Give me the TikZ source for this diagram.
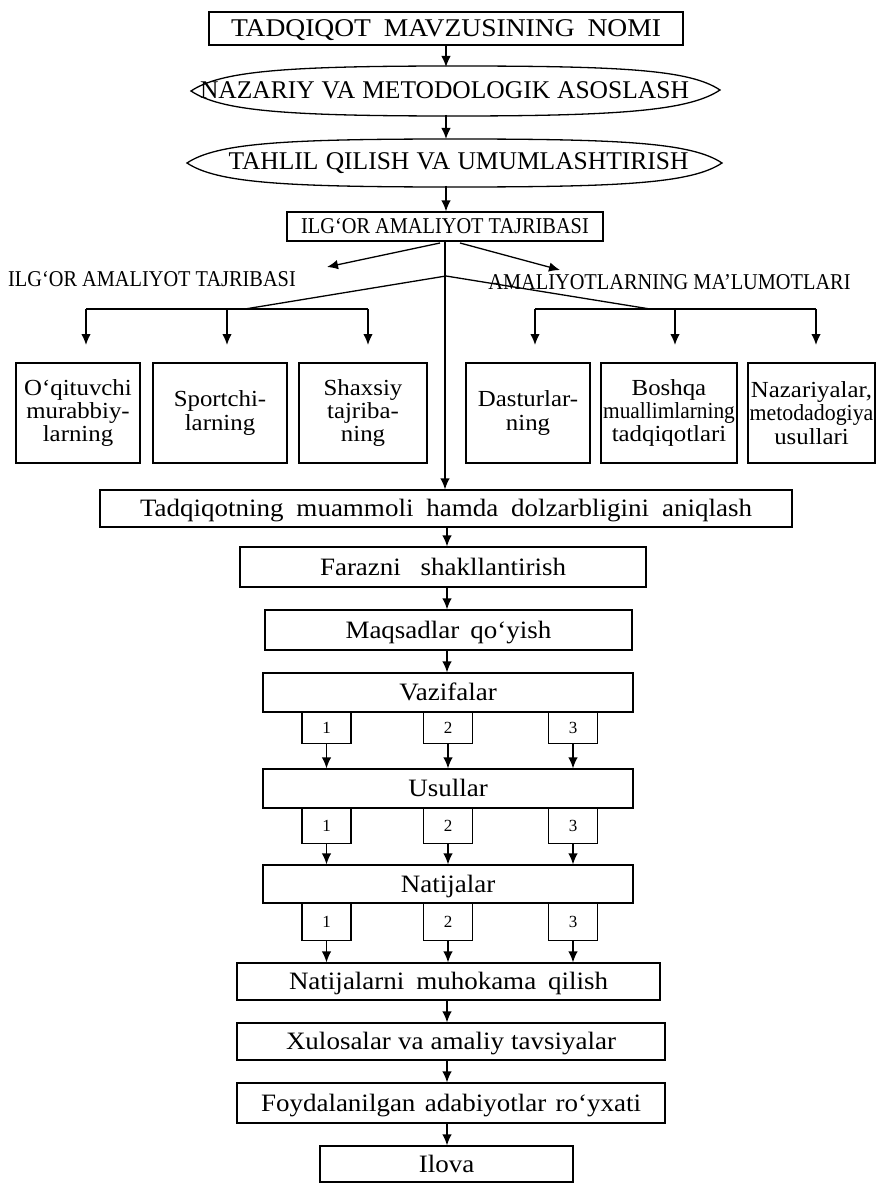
\documentclass[tikz,border=0pt]{standalone}
\usepackage{fontspec}
\usepackage{graphicx}
\setmainfont{Liberation Serif}
\newfontfamily\condfont[FakeStretch=0.9]{Liberation Serif}
\newfontfamily\widefont[FakeStretch=1.08]{Liberation Serif}
\usetikzlibrary{arrows.meta}
\newcommand\fTitle{\fontsize{25.5}{30}\selectfont}
\newcommand\fCond{\condfont\fontsize{22.6}{27}\selectfont}
\newcommand\fMain{\widefont\fontsize{25}{30}\selectfont}
\newcommand\fSmall{\widefont\fontsize{23}{23.3}\selectfont}
\newcommand\fNum{\fontsize{17}{18}\selectfont}
\begin{document}
\begin{tikzpicture}[x=1pt,y=-1pt,
  ln/.style={line width=1.3pt},
  arr/.style={ln,-{Latex[length=11pt,width=9.5pt]}},
  bx/.style={draw,ln,inner sep=0pt},
  caps/.style={font=\fTitle,text height=16.7pt,text depth=0pt,inner sep=0pt},
  cond/.style={font=\fCond,text height=14.8pt,text depth=0pt,inner sep=0pt},
  mb/.style={bx,font=\fMain,text height=16.4pt,text depth=0pt},
  nb/.style={bx,font=\fNum,minimum width=49pt,text height=11.4pt,text depth=0pt},
  sb/.style={bx,font=\fSmall,align=center,minimum height=100pt}]
\useasboundingbox (0,0) rectangle (877,1185);

% --- top part
\node[bx,caps,minimum width=474pt,minimum height=33pt] (title) at (446,28.5)
  {\widefont\makebox[430pt][s]{TADQIQOT MAVZUSINING NOMI}};

\coordinate (e1W) at (191,91);  \coordinate (e1E) at (720,90);
\coordinate (e1N) at (455,66);  \coordinate (e1S) at (455,116);
\draw[ln] (e1W) .. controls +(30,-20) and +(-170,0) .. (e1N)
  .. controls +(170,0) and +(-30,-20) .. (e1E)
  .. controls +(-30,20) and +(170,0) .. (e1S)
  .. controls +(-170,0) and +(30,20) .. cycle;
\node[caps] (e1) at (444.5,90) {\makebox[489pt][s]{NAZARIY VA METODOLOGIK ASOSLASH}};

\coordinate (e2W) at (187,163); \coordinate (e2E) at (722,163);
\coordinate (e2N) at (455,139); \coordinate (e2S) at (455,187);
\draw[ln] (e2W) .. controls +(30,-20) and +(-170,0) .. (e2N)
  .. controls +(170,0) and +(-30,-20) .. (e2E)
  .. controls +(-30,20) and +(170,0) .. (e2S)
  .. controls +(-170,0) and +(30,20) .. cycle;
\node[caps] (e2) at (458.5,161.5) {\makebox[460pt][s]{TAHLIL QILISH VA UMUMLASHTIRISH}};

\coordinate (e1t) at (446,67);  \coordinate (e1b) at (446,115);
\coordinate (e2t) at (446,139); \coordinate (e2b) at (446,186);
\draw[arr] (title.south) -- (e1t);
\draw[arr] (e1b) -- (e2t);

\node[bx,cond,minimum width=316pt,minimum height=29pt] (il) at (445,226.5)
  {ILG‘OR AMALIYOT TAJRIBASI};
\draw[arr] (e2b) -- (e2b |- il.north);

\node[cond] (lab1) at (152,279.5) {ILG‘OR AMALIYOT TAJRIBASI};
\node[cond] (lab2) at (669.5,282.5) {AMALIYOTLARNING MA’LUMOTLARI};

\coordinate (sL) at (440,243); \coordinate (tL) at (327,267);
\coordinate (sR) at (460,243); \coordinate (tR) at (560,270);
\draw[arr] (sL) -- (tL);
\draw[arr] (sR) -- (tR);

% --- branches
\coordinate (apex) at (446,276);
\coordinate (jL) at (245,309); \coordinate (jR) at (650,309);
\draw[ln] (apex) -- (jL);
\draw[ln] (apex) -- (jR);
\coordinate (hL1) at (86,309);  \coordinate (hL2) at (227,309); \coordinate (hL3) at (368,309);
\coordinate (hR1) at (535,309); \coordinate (hR2) at (675,309); \coordinate (hR3) at (816,309);
\draw[ln] (hL1) -- (hL3);
\draw[ln] (hR1) -- (hR3);
\foreach \p in {L1,L2,L3,R1,R2,R3}{
  \coordinate (a\p) at ([yshift=-36pt]h\p);
  \draw[arr] (h\p) -- (a\p);
}

\node[sb,minimum width=124pt] (b1) at (78,413) {O‘qituvchi\\murabbiy-\\larning};
\node[sb,minimum width=134pt] (b2) at (220,413) {Sportchi-\\larning};
\node[sb,minimum width=128pt] (b3) at (363,413) {Shaxsiy\\tajriba-\\ning};
\node[sb,minimum width=124pt] (b4) at (528,413) {Dasturlar-\\ning};
\node[sb,minimum width=136pt] (b5) at (669,413) {Boshqa\\\scalebox{0.86}[1]{muallimlarning}\\tadqiqotlari};
\node[sb,minimum width=127pt] (b6) at (811.5,413) {Nazariyalar,\\\scalebox{0.88}[1]{metodadogiya}\\usullari};

% --- main column
\node[mb,minimum width=692pt,minimum height=37pt] (t1) at (446,508.5)
  {\makebox[612pt][s]{Tadqiqotning muammoli hamda dolzarbligini aniqlash}};
\draw[arr] (il.south) -- (il.south |- t1.north);

\node[mb,minimum width=406pt,minimum height=40pt] (t2) at (443,567)
  {\makebox[246pt][s]{Farazni shakllantirish}};
\node[mb,minimum width=367pt,minimum height=40pt] (t3) at (448.5,630)
  {\makebox[206pt][s]{Maqsadlar qo‘yish}};
\node[mb,minimum width=370pt,minimum height=39pt] (t4) at (448,692.5) {Vazifalar};
\node[mb,minimum width=370pt,minimum height=39pt] (t5) at (448,788.5) {Usullar};
\node[mb,minimum width=370pt,minimum height=38pt] (t6) at (448,884) {Natijalar};
\node[mb,minimum width=423pt,minimum height=37pt] (t7) at (448.5,981.5)
  {\makebox[319pt][s]{Natijalarni muhokama qilish}};
\node[mb,minimum width=428pt,minimum height=37pt] (t8) at (451,1041.5)
  {\makebox[330pt][s]{Xulosalar va amaliy tavsiyalar}};
\node[mb,minimum width=428pt,minimum height=40pt] (t9) at (451,1103)
  {\makebox[380pt][s]{Foydalanilgan adabiyotlar ro‘yxati}};
\node[mb,minimum width=253pt,minimum height=36pt] (t10) at (446.5,1164) {Ilova};

\coordinate (ax) at (447,0);
\draw[arr] (t1.south -| ax) -- (t2.north -| ax);
\draw[arr] (t2.south -| ax) -- (t3.north -| ax);
\draw[arr] (t3.south -| ax) -- (t4.north -| ax);
\draw[arr] (t7.south -| ax) -- (t8.north -| ax);
\draw[arr] (t8.south -| ax) -- (t9.north -| ax);
\draw[arr] (t9.south -| ax) -- (t10.north -| ax);

% --- numbered boxes
\foreach \r/\top/\h in {1/712/31,2/808/35,3/903/37}{
  \node[nb,minimum height=\h pt,anchor=north] (n\r1) at (326.5,\top) {1};
  \node[nb,minimum height=\h pt,anchor=north] (n\r2) at (448,\top) {2};
  \node[nb,minimum height=\h pt,anchor=north] (n\r3) at (573,\top) {3};
}
\foreach \c in {1,2,3}{
  \draw[arr] (n1\c.south) -- (n1\c.south |- t5.north);
  \draw[arr] (n2\c.south) -- (n2\c.south |- t6.north);
  \draw[arr] (n3\c.south) -- (n3\c.south |- t7.north);
}
\end{tikzpicture}
\end{document}
